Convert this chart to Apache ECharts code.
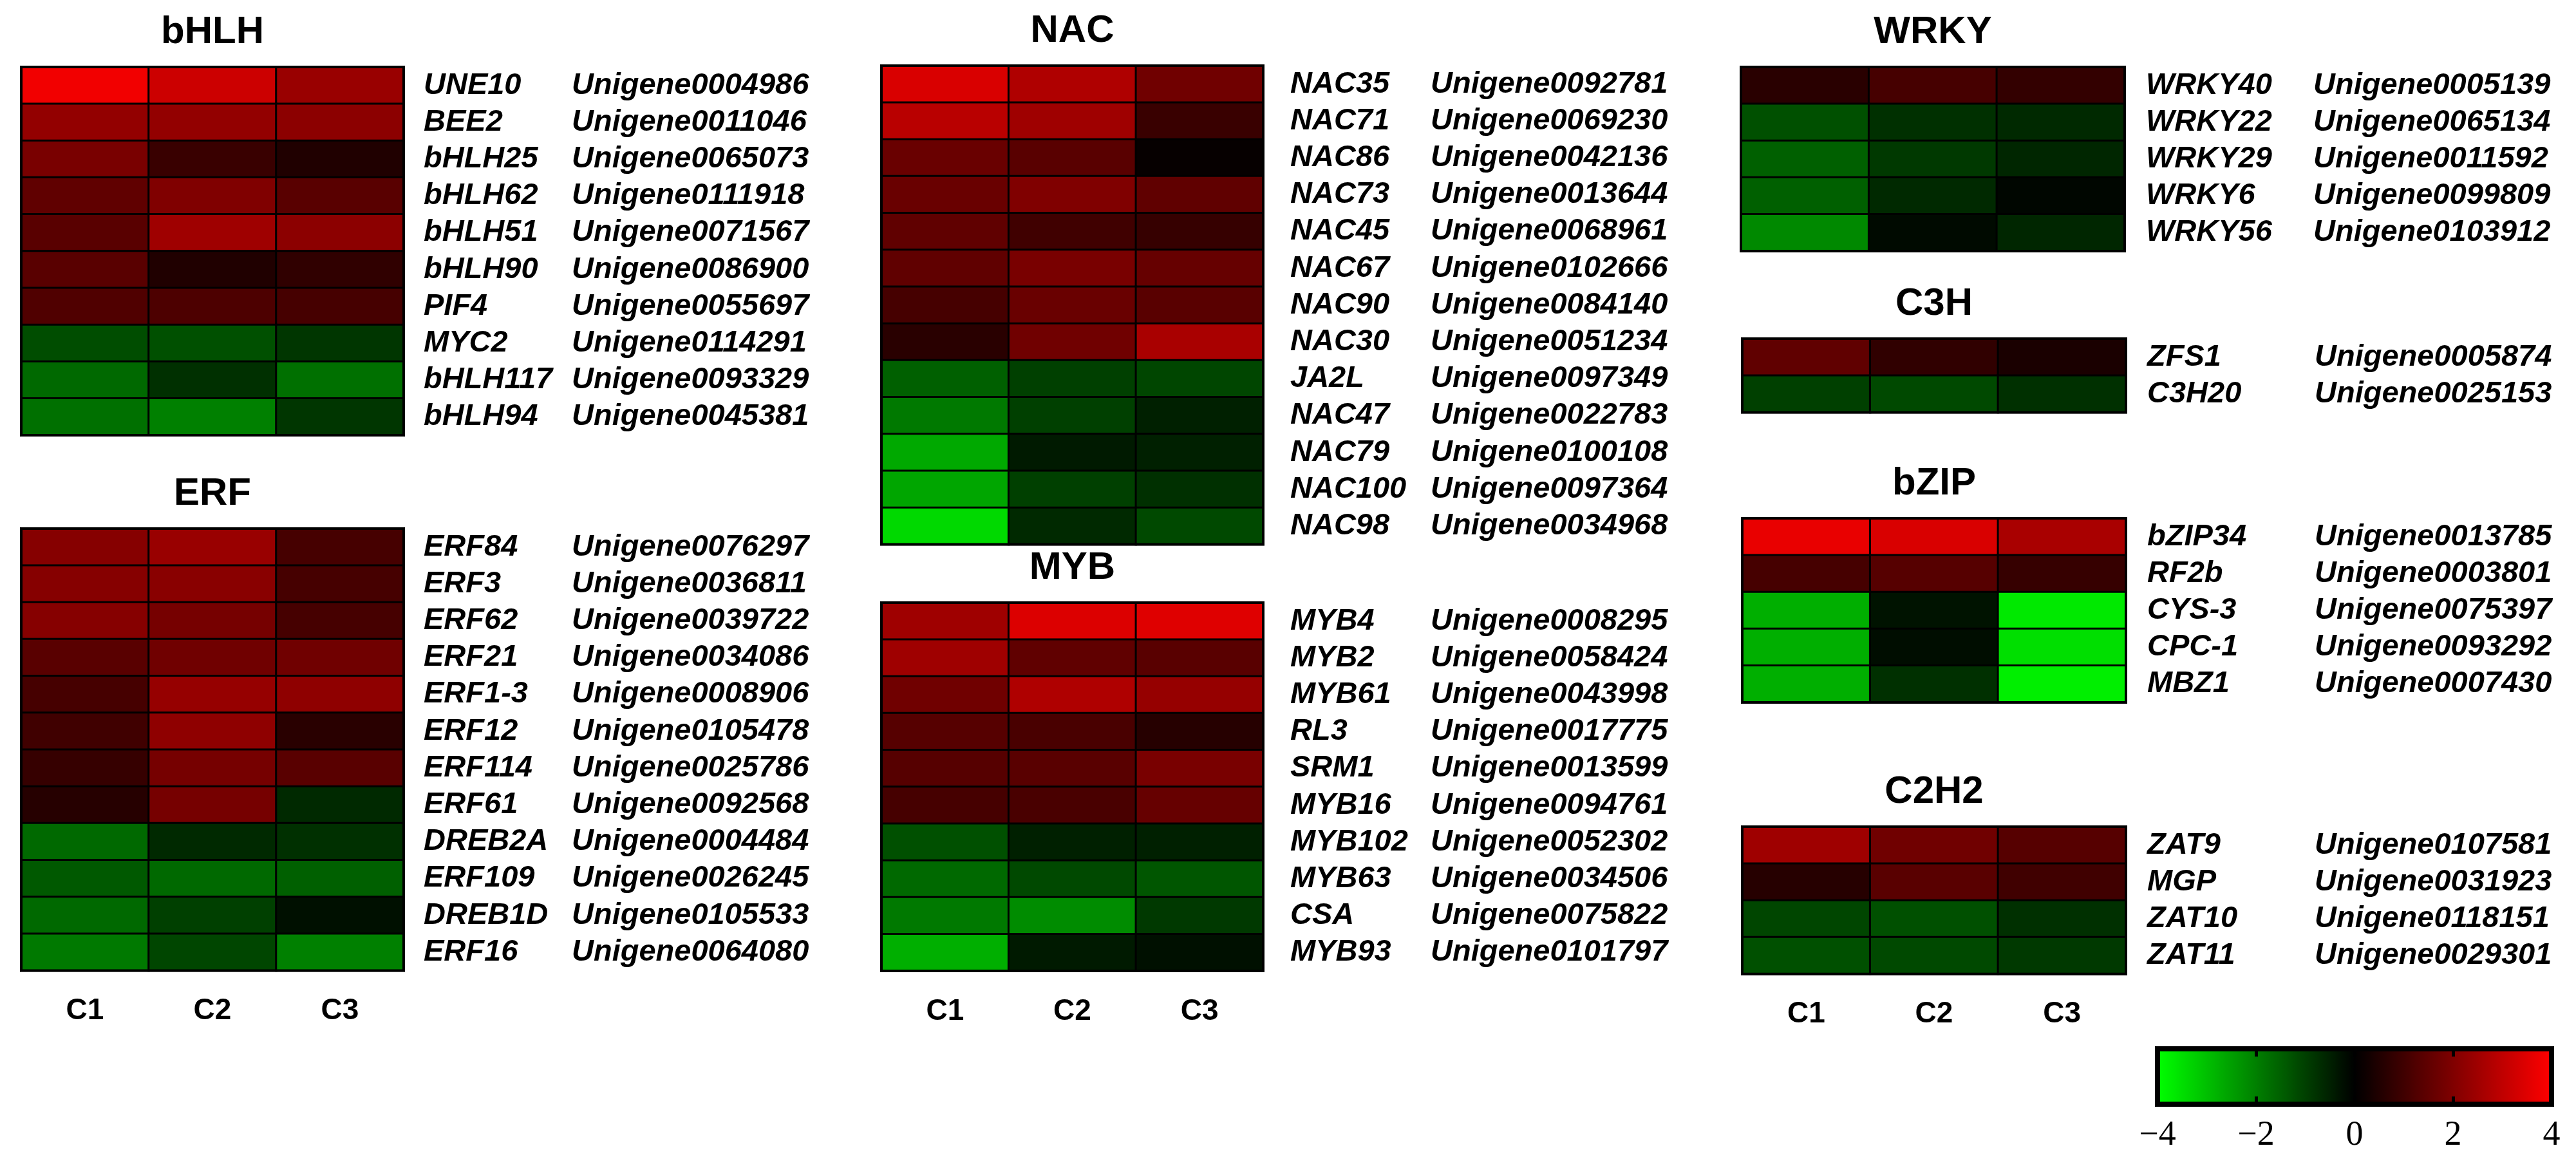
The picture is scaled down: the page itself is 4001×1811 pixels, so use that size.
<!DOCTYPE html>
<html>
<head>
    <meta charset="utf-8">
    <title>TF heatmaps</title>
    <script type="text/javascript" src="https://cdn.jsdelivr.net/npm/echarts@6/dist/echarts.min.js"></script>
    <style>
        body { margin: 0; background: #fff; }
    </style>
</head>
<body>
    <div id="main" style="width: 4001px;height:1811px;"></div>

    <script type="text/javascript">
        // columns
        var conds = ['C1', 'C2', 'C3'];

        // bHLH
        var bhlhGenes = ['UNE10', 'BEE2', 'bHLH25', 'bHLH62', 'bHLH51', 'bHLH90', 'PIF4', 'MYC2', 'bHLH117', 'bHLH94'];
        var bhlhIds = ['Unigene0004986', 'Unigene0011046', 'Unigene0065073', 'Unigene0111918', 'Unigene0071567',
            'Unigene0086900', 'Unigene0055697', 'Unigene0114291', 'Unigene0093329', 'Unigene0045381'];
        var bhlhValues = [[3.8, 3.2, 2.4], [2.3, 2.3, 2.2], [1.9, 0.9, 0.5], [1.5, 2.0, 1.4], [1.4, 2.5, 2.2],
            [1.4, 0.5, 0.75], [1.25, 1.2, 1.1], [-1.2, -1.25, -0.85], [-1.65, -0.75, -1.75], [-1.75, -2.0, -0.85]];

        // ERF
        var erfGenes = ['ERF84', 'ERF3', 'ERF62', 'ERF21', 'ERF1-3', 'ERF12', 'ERF114', 'ERF61', 'DREB2A', 'ERF109', 'DREB1D', 'ERF16'];
        var erfIds = ['Unigene0076297', 'Unigene0036811', 'Unigene0039722', 'Unigene0034086', 'Unigene0008906', 'Unigene0105478',
            'Unigene0025786', 'Unigene0092568', 'Unigene0004484', 'Unigene0026245', 'Unigene0105533', 'Unigene0064080'];
        var erfValues = [[2.1, 2.4, 1.1], [2.1, 2.15, 1.1], [2.1, 1.85, 1.1], [1.4, 1.75, 1.75], [1.1, 2.35, 2.25], [1.0, 2.25, 0.65],
            [0.85, 1.85, 1.4], [0.6, 1.85, -0.65], [-1.65, -0.65, -0.75], [-1.4, -1.65, -1.5], [-1.65, -1.0, -0.25], [-1.9, -1.1, -2.0]];

        // NAC
        var nacGenes = ['NAC35', 'NAC71', 'NAC86', 'NAC73', 'NAC45', 'NAC67', 'NAC90', 'NAC30', 'JA2L', 'NAC47', 'NAC79', 'NAC100', 'NAC98'];
        var nacIds = ['Unigene0092781', 'Unigene0069230', 'Unigene0042136', 'Unigene0013644', 'Unigene0068961', 'Unigene0102666',
            'Unigene0084140', 'Unigene0051234', 'Unigene0097349', 'Unigene0022783', 'Unigene0100108', 'Unigene0097364', 'Unigene0034968'];
        var nacValues = [[3.4, 2.75, 1.75], [2.9, 2.5, 0.9], [1.65, 1.4, 0.1], [1.65, 2.0, 1.5], [1.5, 1.0, 0.85], [1.5, 1.9, 1.6],
            [1.1, 1.65, 1.4], [0.65, 1.75, 2.65], [-1.5, -1.0, -1.1], [-1.9, -1.0, -0.5], [-2.65, -0.4, -0.5], [-2.6, -1.0, -0.75],
            [-3.4, -0.65, -1.15]];

        // MYB
        var mybGenes = ['MYB4', 'MYB2', 'MYB61', 'RL3', 'SRM1', 'MYB16', 'MYB102', 'MYB63', 'CSA', 'MYB93'];
        var mybIds = ['Unigene0008295', 'Unigene0058424', 'Unigene0043998', 'Unigene0017775', 'Unigene0013599',
            'Unigene0094761', 'Unigene0052302', 'Unigene0034506', 'Unigene0075822', 'Unigene0101797'];
        var mybValues = [[2.5, 3.45, 3.5], [2.5, 1.5, 1.4], [1.75, 2.75, 2.35], [1.35, 1.15, 0.6], [1.35, 1.4, 1.9],
            [1.1, 1.15, 1.6], [-1.25, -0.5, -0.5], [-1.65, -1.15, -1.35], [-1.9, -2.2, -0.9], [-2.75, -0.4, -0.25]];

        // WRKY
        var wrkyGenes = ['WRKY40', 'WRKY22', 'WRKY29', 'WRKY6', 'WRKY56'];
        var wrkyIds = ['Unigene0005139', 'Unigene0065134', 'Unigene0011592', 'Unigene0099809', 'Unigene0103912'];
        var wrkyValues = [[0.65, 1.1, 0.8], [-1.25, -0.75, -0.65], [-1.5, -0.9, -0.6], [-1.5, -0.65, -0.1], [-2.15, -0.15, -0.6]];

        // C3H
        var c3hGenes = ['ZFS1', 'C3H20'];
        var c3hIds = ['Unigene0005874', 'Unigene0025153'];
        var c3hValues = [[1.5, 0.75, 0.4], [-1.0, -1.15, -0.75]];

        // bZIP
        var bzipGenes = ['bZIP34', 'RF2b', 'CYS-3', 'CPC-1', 'MBZ1'];
        var bzipIds = ['Unigene0013785', 'Unigene0003801', 'Unigene0075397', 'Unigene0093292', 'Unigene0007430'];
        var bzipValues = [[3.65, 3.4, 2.65], [1.1, 1.35, 0.85], [-2.75, -0.3, -3.65], [-2.75, -0.2, -3.5], [-2.75, -0.75, -3.75]];

        // C2H2
        var c2h2Genes = ['ZAT9', 'MGP', 'ZAT10', 'ZAT11'];
        var c2h2Ids = ['Unigene0107581', 'Unigene0031923', 'Unigene0118151', 'Unigene0029301'];
        var c2h2Values = [[2.5, 1.75, 1.35], [0.6, 1.4, 1.0], [-1.1, -1.25, -0.75], [-1.25, -1.15, -0.9]];

        // colour scale ticks
        var scaleTicks = [-4, -2, 0, 2, 4];

        var myChart = echarts.init(document.getElementById('main'));

        var FONT = 'Liberation Sans';
        // panel placement (pixels)
        var panels = [
            {name: 'bHLH', genes: bhlhGenes, ids: bhlhIds, vals: bhlhValues, left: 33,   top: 104,  right: 627,  gap: 31, idCol: 230, xlab: false},
            {name: 'ERF',  genes: erfGenes,  ids: erfIds,  vals: erfValues,  left: 33,   top: 821,  right: 627,  gap: 31, idCol: 230, xlab: true},
            {name: 'NAC',  genes: nacGenes,  ids: nacIds,  vals: nacValues,  left: 1369, top: 102,  right: 1962, gap: 42, idCol: 218, xlab: false},
            {name: 'MYB',  genes: mybGenes,  ids: mybIds,  vals: mybValues,  left: 1369, top: 936,  right: 1962, gap: 42, idCol: 218, xlab: true},
            {name: 'WRKY', genes: wrkyGenes, ids: wrkyIds, vals: wrkyValues, left: 2704, top: 104,  right: 3300, gap: 33, idCol: 260, xlab: false},
            {name: 'C3H',  genes: c3hGenes,  ids: c3hIds,  vals: c3hValues,  left: 2706, top: 526,  right: 3302, gap: 33, idCol: 260, xlab: false},
            {name: 'bZIP', genes: bzipGenes, ids: bzipIds, vals: bzipValues, left: 2706, top: 805,  right: 3302, gap: 33, idCol: 260, xlab: false},
            {name: 'C2H2', genes: c2h2Genes, ids: c2h2Ids, vals: c2h2Values, left: 2706, top: 1284, right: 3302, gap: 33, idCol: 260, xlab: true}
        ];
        var ROW = 57.2;

        var grids = [], xAxes = [], yAxes = [], series = [], titles = [];
        panels.forEach(function (p, i) {
            var h = p.genes.length * ROW;
            grids.push({left: p.left, top: p.top, width: p.right - p.left, height: h,
                show: true, borderColor: '#000', borderWidth: 4, backgroundColor: 'transparent', z: 3});
            titles.push({text: p.name, left: (p.left + p.right) / 2, top: p.top - 84, textAlign: 'center', padding: 0,
                textStyle: {fontFamily: FONT, fontWeight: 'bold', fontSize: 60, color: '#000'}});
            xAxes.push({type: 'category', gridIndex: i, data: conds, position: 'bottom',
                axisLine: {show: false}, axisTick: {show: false}, splitLine: {show: false},
                axisLabel: {show: p.xlab, margin: 40, fontFamily: FONT, fontWeight: 'bold', fontSize: 46, color: '#000'}});
            (function (ids, idCol) {
                yAxes.push({type: 'category', gridIndex: i, data: p.genes, inverse: true, position: 'right',
                    axisLine: {show: false}, axisTick: {show: false}, splitLine: {show: false},
                    axisLabel: {margin: p.gap, align: 'left',
                        formatter: function (v, idx) { return '{g|' + v + '}{u|' + ids[idx] + '}'; },
                        rich: {
                            g: {width: idCol, fontFamily: FONT, fontStyle: 'italic', fontWeight: 'bold', fontSize: 47, color: '#000'},
                            u: {fontFamily: FONT, fontStyle: 'italic', fontWeight: 'bold', fontSize: 47, color: '#000'}
                        }}});
            })(p.ids, p.idCol);
            var data = [];
            p.vals.forEach(function (row, r) {
                row.forEach(function (v, c) { data.push([c, r, v]); });
            });
            series.push({type: 'heatmap', xAxisIndex: i, yAxisIndex: i, data: data,
                itemStyle: {borderColor: '#000', borderWidth: 3}, emphasis: {disabled: true}});
        });

        // colour bar frame and tick labels
        var cbIndex = panels.length;
        grids.push({left: 3351, top: 1629, width: 612, height: 86, show: true, borderColor: '#000', borderWidth: 8,
            backgroundColor: 'transparent', z: 10});
        xAxes.push({type: 'value', gridIndex: cbIndex, min: -4, max: 4, interval: 2, position: 'bottom', z: 10,
            axisLine: {show: false}, splitLine: {show: false},
            axisTick: {show: true, inside: true, length: 12, lineStyle: {color: '#000', width: 5}},
            axisLabel: {margin: 22, fontFamily: 'Liberation Serif', fontSize: 54, color: '#000',
                formatter: function (v) { return v < 0 ? '\u2212' + Math.abs(v) : String(v); }},
            data: scaleTicks});
        xAxes.push({type: 'value', gridIndex: cbIndex, min: -4, max: 4, interval: 2, position: 'top', z: 10,
            axisLine: {show: false}, splitLine: {show: false}, axisLabel: {show: false},
            axisTick: {show: true, inside: true, length: 12, lineStyle: {color: '#000', width: 5}}});
        yAxes.push({type: 'value', gridIndex: cbIndex, show: false, min: 0, max: 1});

        var option = {
            backgroundColor: '#fff',
            animation: false,
            title: titles,
            grid: grids,
            xAxis: xAxes,
            yAxis: yAxes,
            visualMap: {
                type: 'continuous', min: -4, max: 4, calculable: false, orient: 'horizontal',
                seriesIndex: series.map(function (s, k) { return k; }),
                left: 3351, top: 1629, padding: 0,
                itemWidth: 86, itemHeight: 612, text: null, hoverLink: false,
                inRange: {color: ['#00ff00', '#000000', '#ff0000']}
            },
            series: series
        };

        myChart.setOption(option);
    </script>
</body>
</html>
